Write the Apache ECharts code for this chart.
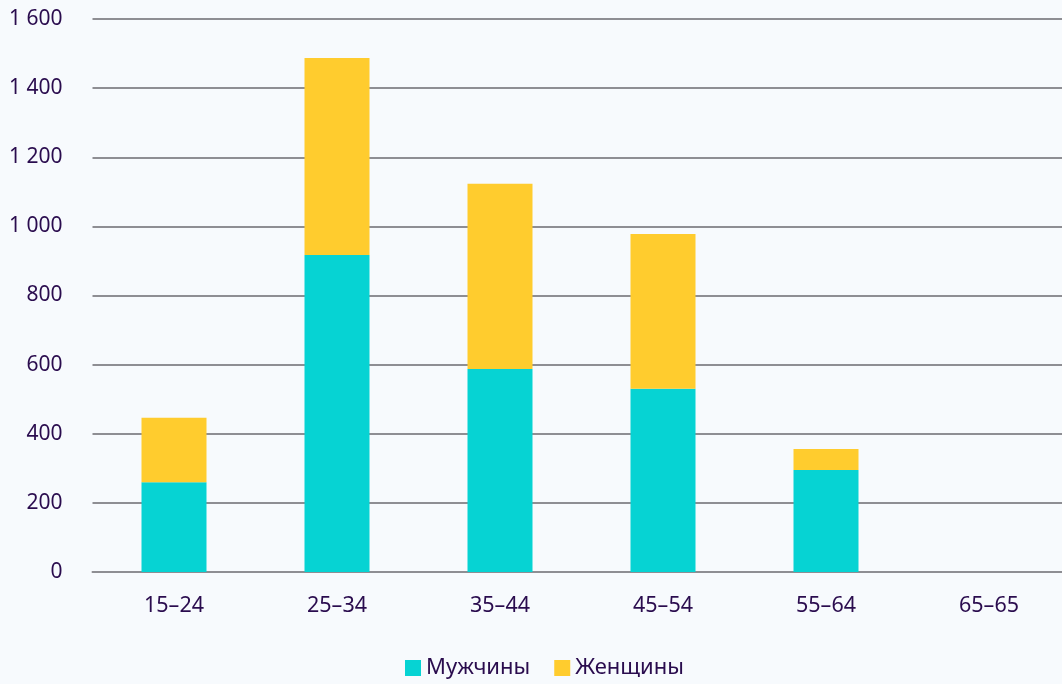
<!DOCTYPE html>
<html><head><meta charset="utf-8">
<script src="https://cdn.jsdelivr.net/npm/echarts@6/dist/echarts.min.js"></script>
<style>html,body{margin:0;padding:0;background:#f7fafd;}#c{width:1062px;height:684px;}</style>
</head><body><div id="c"></div>
<script>
const categories = ['15–24','25–34','35–44','45–54','55–64','65–65'];
const men = [260, 917, 587, 530, 295, 0];
const women = [186, 570, 536, 448, 61, 0];
const seriesNames = ['Мужчины','Женщины'];
const colors = ['#06d3d3','#ffcc2e'];
const textColor = '#2a0c4e';
const font = '"Noto Sans", "Open Sans", sans-serif';

const chart = echarts.init(document.getElementById('c'));
chart.setOption({
  backgroundColor: '#f7fafd',
  animation: false,
  grid: {left: 92.5, width: 978, top: 19, height: 553, outerBoundsMode: 'none', containLabel: false},
  legend: {
    bottom: 0, left: 400, itemWidth: 16, itemHeight: 16, itemGap: 24,
    icon: 'rect',
    textStyle: {color: textColor, fontSize: 22, fontFamily: font}
  },
  xAxis: {
    type: 'category', data: categories,
    axisTick: {show: false},
    axisLine: {lineStyle: {color: '#8e8e93', width: 2}},
    axisLabel: {color: textColor, fontSize: 21.5, fontFamily: font, margin: 23}
  },
  yAxis: {
    type: 'value', min: 0, max: 1600, interval: 200,
    axisLine: {show: false}, axisTick: {show: false},
    splitLine: {lineStyle: {color: '#8e8e93', width: 2}},
    axisLabel: {
      color: textColor, fontSize: 21, fontFamily: font, margin: 30,
      formatter: v => String(v).replace(/\B(?=(\d{3})+(?!\d))/g, ' ')
    }
  },
  series: [
    {name: seriesNames[0], type: 'bar', stack: 't', data: men, barWidth: 65, itemStyle: {color: colors[0]}},
    {name: seriesNames[1], type: 'bar', stack: 't', data: women, barWidth: 65, itemStyle: {color: colors[1]}}
  ]
});
</script></body></html>
